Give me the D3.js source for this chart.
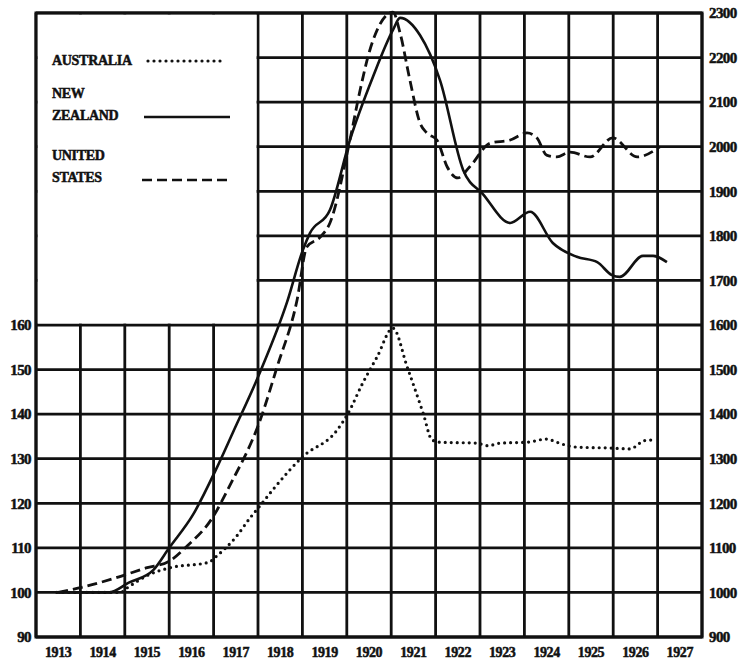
<!DOCTYPE html>
<html>
<head>
<meta charset="utf-8">
<script src="https://cdn.jsdelivr.net/npm/d3@7"></script>
<style>
    html, body { margin: 0; padding: 0; background: #fff; }
    svg text { font-family: 'Liberation Serif', 'DejaVu Serif', serif; font-weight: 700; fill: #111; stroke: #111; stroke-width: 0.5px; }
</style>
</head>
<body>
<div id="chartWrap"></div>
<script>
'use strict'

// years shown in the bands along the bottom
const years = [1913, 1914, 1915, 1916, 1917, 1918, 1919, 1920, 1921, 1922, 1923, 1924, 1925, 1926, 1927];
const leftTicks = [90, 100, 110, 120, 130, 140, 150, 160];
const rightTicks = [900, 1000, 1100, 1200, 1300, 1400, 1500, 1600, 1700, 1800, 1900, 2000, 2100, 2200, 2300];

// Australia - read on the left scale, [year, value]
const australia = [
    [1913.47, 100], [1914.9, 100], [1915.05, 101], [1915.55, 104], [1916.0, 105.5], [1916.9, 106.8],
    [1917.05, 108], [1917.5, 112.4], [1917.82, 116.7], [1918.05, 119.5], [1918.38, 123.6], [1919.0, 130.4],
    [1919.78, 136.4], [1920.03, 140.2], [1920.36, 147], [1920.68, 152.8], [1921.04, 159.3], [1921.36, 150.6],
    [1921.72, 140.2], [1921.92, 134.2], [1922.1, 133.7], [1922.93, 133.5], [1923.18, 132.9], [1923.45, 133.5],
    [1924.06, 133.7], [1924.5, 134.4], [1924.73, 133.7], [1924.98, 132.9], [1925.18, 132.6], [1925.93, 132.4],
    [1926.38, 132.2], [1926.54, 133], [1926.67, 134], [1926.9, 134.2]
];

// New Zealand - read on the right scale
const newZealand = [
    [1913.5, 1000], [1914.64, 1000], [1915.09, 1022], [1915.64, 1050], [1916.0, 1100], [1916.54, 1175],
    [1917.05, 1275], [1917.44, 1360], [1918.05, 1495], [1918.65, 1650], [1919.01, 1768], [1919.17, 1806],
    [1919.62, 1858], [1920.07, 2015], [1920.59, 2157], [1921.04, 2262], [1921.2, 2289], [1921.65, 2250],
    [1922.1, 2149], [1922.62, 1948], [1923.07, 1893], [1923.68, 1829], [1924.13, 1854], [1924.64, 1784],
    [1925.18, 1753], [1925.64, 1741], [1925.97, 1712], [1926.15, 1708], [1926.67, 1755], [1926.9, 1755],
    [1927.21, 1741]
];

// United States - read on the right scale
const unitedStates = [
    [1913.5, 1000], [1914.06, 1012], [1914.87, 1035], [1915.48, 1055], [1916.0, 1070], [1916.38, 1102],
    [1916.99, 1170], [1917.35, 1237], [1918.05, 1387], [1918.43, 1506], [1918.88, 1656], [1919.1, 1775],
    [1919.4, 1797], [1919.62, 1829], [1920.07, 2015], [1920.3, 2127], [1920.52, 2217], [1921.04, 2302],
    [1921.2, 2255], [1921.42, 2150], [1921.65, 2053], [1921.8, 2031], [1922.03, 2015], [1922.26, 1955],
    [1922.5, 1930], [1922.77, 1955], [1923.23, 2008], [1923.68, 2015], [1924.06, 2031], [1924.28, 2020],
    [1924.5, 1981], [1924.73, 1977], [1925.03, 1988], [1925.48, 1977], [1925.99, 2020], [1926.54, 1977],
    [1927.05, 2000]
];

const legendItems = [
    { lines: ['AUSTRALIA'], dash: '0 6', width: 3.2, cap: 'round' },
    { lines: ['NEW', 'ZEALAND'], dash: null, width: 2.6, cap: 'butt' },
    { lines: ['UNITED', 'STATES'], dash: '10 5', width: 2.6, cap: 'butt' }
];

window.addEventListener('DOMContentLoaded', function(event) {
    //#region Settings and scales
    let svgWidth = 748,
        svgHeight = 661,
        margin = { top: 13, right: 46, bottom: 24, left: 36 },
        chartWidth = svgWidth - margin.left - margin.right,
        chartHeight = svgHeight - margin.top - margin.bottom;

    const xScale = d3.scaleLinear()
        .domain([1913, 1928])
        .range([0, chartWidth]);

    const yRight = d3.scaleLinear()
        .domain([900, 2300])
        .range([chartHeight, 0]);

    const yLeft = d3.scaleLinear()
        .domain([90, 230])
        .range([chartHeight, 0]);
    //#endregion Settings and scales

    //#region SVG container
    let svg = d3.select('#chartWrap')
        .append('svg')
        .attr('width', svgWidth)
        .attr('height', svgHeight);

    let mainContainer = svg.append('g')
        .attr('class', 'chart')
        .attr('transform', `translate(${margin.left}, ${margin.top})`);
    //#endregion SVG container

    //#region Grid
    const grid = mainContainer.append('g').attr('class', 'grid');

    // year boundaries
    grid.selectAll('line.v')
        .data(years.concat([1928]))
        .join('line')
            .attr('class', 'v')
            .attr('x1', d => xScale(d))
            .attr('x2', d => xScale(d))
            .attr('y1', 0)
            .attr('y2', chartHeight)
            .attr('stroke', '#111')
            .attr('stroke-width', 2.8);

    grid.selectAll('line.h')
        .data(rightTicks)
        .join('line')
            .attr('class', 'h')
            .attr('x1', 0)
            .attr('x2', chartWidth)
            .attr('y1', d => yRight(d))
            .attr('y2', d => yRight(d))
            .attr('stroke', '#111')
            .attr('stroke-width', 2.8);

    // white box for the key, top left
    mainContainer.append('rect')
        .attr('x', 1.5)
        .attr('y', 1.5)
        .attr('width', xScale(1918) - 3)
        .attr('height', yRight(1600) - 3)
        .attr('fill', '#fff');

    mainContainer.append('rect')
        .attr('x', 0)
        .attr('y', 0)
        .attr('width', chartWidth)
        .attr('height', chartHeight)
        .attr('fill', 'none')
        .attr('stroke', '#111')
        .attr('stroke-width', 3);
    //#endregion Grid

    //#region Axes
    mainContainer.append('g')
        .attr('class', 'axis axis-left')
        .call(d3.axisLeft(yLeft).tickValues(leftTicks).tickSize(0).tickPadding(5))
        .call(g => g.select('.domain').remove())
        .selectAll('text')
            .attr('font-size', 15)
            .attr('letter-spacing', -0.6);

    mainContainer.append('g')
        .attr('class', 'axis axis-right')
        .attr('transform', `translate(${chartWidth}, 0)`)
        .call(d3.axisRight(yRight).tickValues(rightTicks).tickFormat(d3.format('d')).tickSize(0).tickPadding(7))
        .call(g => g.select('.domain').remove())
        .selectAll('text')
            .attr('font-size', 15)
            .attr('letter-spacing', -0.6);

    mainContainer.append('g')
        .attr('class', 'axis axis-x')
        .selectAll('text')
        .data(years)
        .join('text')
            .attr('x', d => xScale(d + 0.5))
            .attr('y', chartHeight + 20)
            .attr('text-anchor', 'middle')
            .attr('font-size', 14)
            .attr('letter-spacing', -0.4)
            .text(d => d);
    //#endregion Axes

    //#region Lines
    const lineLeft = d3.line()
        .x(d => xScale(d[0]))
        .y(d => yLeft(d[1]))
        .curve(d3.curveMonotoneX);

    const lineRight = d3.line()
        .x(d => xScale(d[0]))
        .y(d => yRight(d[1]))
        .curve(d3.curveMonotoneX);

    mainContainer.append('path')
        .datum(newZealand)
        .attr('d', lineRight)
        .attr('fill', 'none')
        .attr('stroke', '#111')
        .attr('stroke-width', 2.6);

    mainContainer.append('path')
        .datum(unitedStates)
        .attr('d', lineRight)
        .attr('fill', 'none')
        .attr('stroke', '#111')
        .attr('stroke-width', 2.8)
        .attr('stroke-dasharray', '10 5');

    mainContainer.append('path')
        .datum(australia)
        .attr('d', lineLeft)
        .attr('fill', 'none')
        .attr('stroke', '#111')
        .attr('stroke-width', 3.2)
        .attr('stroke-linecap', 'round')
        .attr('stroke-dasharray', '0 6');
    //#endregion Lines

    //#region Legend
    const legend = mainContainer.append('g')
        .attr('class', 'legend')
        .attr('transform', 'translate(16, 52)');

    let item = legend.selectAll('g')
        .data(legendItems)
        .join('g')
            .attr('transform', (d, i) => `translate(0, ${[0, 33, 95][i]})`);

    item.selectAll('text')
        .data(d => d.lines)
        .join('text')
            .attr('x', 0)
            .attr('y', (d, i) => i * 22)
            .attr('font-size', 14)
            .attr('letter-spacing', -0.3)
            .text(d => d);

    item.append('line')
        .attr('x1', (d, i) => [96, 92, 90][i])
        .attr('x2', (d, i) => [173, 178, 180][i])
        .attr('y1', (d, i) => (d.lines.length - 1) * 22 - [4, 3, 2][i])
        .attr('y2', (d, i) => (d.lines.length - 1) * 22 - [4, 3, 2][i])
        .attr('stroke', '#111')
        .attr('stroke-width', d => d.width)
        .attr('stroke-linecap', d => d.cap)
        .attr('stroke-dasharray', d => d.dash);
    //#endregion Legend
});
</script>
</body>
</html>
